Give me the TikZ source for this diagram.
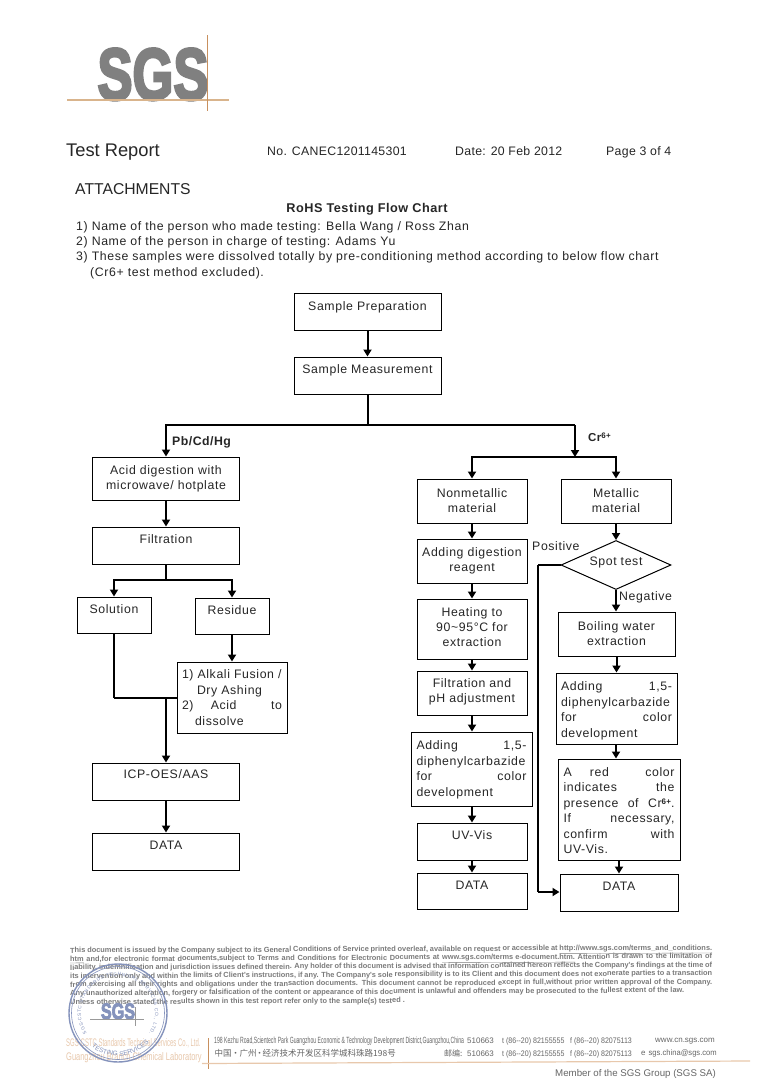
\documentclass[tikz,border=0pt]{standalone}
\usepackage{fontspec}
\setmainfont[LetterSpace=5]{Liberation Sans}
\newfontfamily\plainf{Liberation Sans}
\newfontfamily\hdrf[LetterSpace=2.5]{Liberation Sans}
\newfontfamily\logof[FakeBold=4]{Liberation Sans Bold}
\newfontfamily\boldf[LetterSpace=4]{Liberation Sans Bold}
\newfontfamily\cjkf{Noto Sans CJK SC}
\usetikzlibrary{arrows.meta,shapes.geometric,decorations.text}
\renewcommand{\arraystretch}{1.025}
\definecolor{tanl}{HTML}{D9B48C}
\definecolor{tand}{HTML}{C8905E}
\definecolor{stamp}{HTML}{8593BC}
\definecolor{lega}{HTML}{7A7A7A}
\definecolor{orng}{HTML}{E8C8AC}
\tikzset{
 fb/.style={draw=black,line width=1pt,rectangle,inner sep=0pt,font=\fontsize{12.3}{15}\selectfont,align=center,text=black!85},
 lbl/.style={inner sep=0pt,font=\fontsize{12.3}{15}\selectfont,text=black!85,anchor=base west},
 hdr/.style={inner sep=0pt,font=\hdrf\fontsize{12.3}{15}\selectfont,text=black!85,anchor=base west},
 decis/.style={draw=black,line width=1pt,diamond,inner sep=0pt,aspect=2.2},
 flow/.style={draw=black,line width=2pt,-{Triangle[width=8pt,length=7pt]}},
 flowp/.style={draw=black,line width=2pt},
 thin line/.style={draw=black,line width=1.1pt},
 legal/.style={inner sep=0pt,anchor=base west,rotate=0.27,text=lega,font=\plainf\bfseries\fontsize{7.4}{9}\selectfont},
 addr/.style={inner sep=0pt,anchor=base west,text=black!60,font=\plainf\fontsize{8}{9}\selectfont},
 labt/.style={inner sep=0pt,anchor=base west,text=orng,font=\plainf\fontsize{11}{12}\selectfont},
}
\newcommand{\bx}[7][]{\node[fb,minimum width=#4-#2,minimum height=#5-#3,text depth=#1] (#6) at ({(#2+#4)/2},{(#3+#5)/2}) {#7};}
\newcommand{\jl}[3]{\hbox to #1pt{#2\hfill #3}}
\newcommand{\crsix}{Cr\raisebox{3pt}{\boldf\fontsize{8}{8}\selectfont 6+}}
\begin{document}
\begin{tikzpicture}[x=1pt,y=-1pt]
\useasboundingbox (0,0) rectangle (764,1080);
\fill[white] (0,0) rectangle (764,1080);
% logo
\node[inner sep=0pt,anchor=base,text=black!50] (logo) at (153,99.5) {\scalebox{0.72}[1]{\logof\fontsize{73}{73}\selectfont SGS}};
\draw[tanl,line width=1.2pt] (67,100) -- (229,100);
\draw[tand,line width=0.8pt] (207.5,35) -- (207.5,111);
% header
\node[lbl,font=\plainf\fontsize{18.3}{20}\selectfont] (tr) at (66,156) {Test Report};
\node[hdr] (no) at (267,155) {No. CANEC1201145301};
\node[hdr] (dt) at (455,155) {Date: 20 Feb 2012};
\node[hdr] (pg) at (606,155) {Page 3 of 4};
\node[lbl,font=\plainf\fontsize{15.7}{18}\selectfont] (att) at (75,194) {ATTACHMENTS};
\node[lbl,font=\boldf\fontsize{12.7}{15}\selectfont,anchor=base] (ttl) at (367,212) {RoHS Testing Flow Chart};
\node[lbl] (l1) at (76,230) {1) Name of the person who made testing: Bella Wang / Ross Zhan};
\node[lbl] (l2) at (76,245) {2) Name of the person in charge of testing: Adams Yu};
\node[lbl] (l3) at (76,260) {3) These samples were dissolved totally by pre-conditioning method according to below flow chart};
\node[lbl] (l4) at (90,276) {(Cr6+ test method excluded).};
% boxes
\bx[10pt]{294}{293}{441}{330}{sp}{Sample Preparation}
\bx[12pt]{294}{357}{441}{394}{sm}{Sample Measurement}
\bx{92.5}{457}{239.5}{500}{acid}{Acid digestion with\\microwave/ hotplate}
\bx[12pt]{92.5}{527}{239.5}{564}{filt}{Filtration}
\bx[12pt]{77}{597}{151}{633}{sol}{Solution}
\bx[11pt]{195}{598}{269}{634}{res}{Residue}
\bx{177}{662}{287}{733}{alk}{\begin{tabular}{@{}l@{}}\rule{0pt}{13.5pt}\jl{100}{1) Alkali Fusion /}{}\\ \jl{100}{\hspace{15pt}Dry Ashing}{}\\ \jl{100}{2)\hfill Acid\hfill}{to}\\ \jl{100}{\hspace{13pt}dissolve}{}\end{tabular}}
\bx[15pt]{92.5}{763}{239.5}{800}{icp}{ICP-OES/AAS}
\bx[12pt]{92.5}{833}{239.5}{870}{data1}{DATA}
\bx{417}{479}{527}{523}{nonm}{Nonmetallic\\material}
\bx{561}{479}{671}{523}{met}{Metallic\\material}
\bx{417}{539}{527}{583}{adig}{Adding digestion\\reagent}
\bx[4pt]{417}{599}{527}{659}{heat}{Heating to\\90\textasciitilde95\textdegree C for\\extraction}
\bx[4pt]{417}{671}{527}{715}{fph}{Filtration and\\pH adjustment}
\bx{411}{732}{532}{806}{dpc1}{\begin{tabular}{@{}l@{}}\rule{0pt}{12.5pt}\jl{110}{Adding}{1,5-}\\diphenylcarbazide\\ \jl{110}{for}{color}\\development\end{tabular}}
\bx[12pt]{417}{823}{527}{860}{uv}{UV-Vis}
\bx[12pt]{417}{873}{527}{909}{data2}{DATA}
\node[decis,minimum width=110pt,minimum height=49pt,font=\fontsize{12.3}{15}\selectfont,text=black!85,text depth=8pt] (spot) at (616,565) {Spot test};
\bx{558}{612}{675}{656}{boil}{Boiling water\\extraction}
\bx{556}{673}{677}{744}{dpc2}{\begin{tabular}{@{}l@{}}\rule{0pt}{15.5pt}\jl{111}{Adding}{1,5-}\\diphenylcarbazide\\ \jl{111}{for}{color}\\development\end{tabular}}
\bx{558}{759}{680}{860}{red}{\begin{tabular}{@{}l@{}}\rule{0pt}{15.5pt}\jl{111}{A\hfill red\hfill}{color}\\ \jl{111}{indicates}{the}\\ \jl{111}{presence\hfill of}{\crsix.}\\ \jl{111}{If}{necessary,}\\ \jl{111}{confirm}{with}\\ UV-Vis.\end{tabular}}
\bx[12pt]{560}{874}{678}{911}{data3}{DATA}
% junction coordinates
\coordinate (j1) at (sm.south |- 0,425);
\coordinate (j1l) at (acid.north |- j1);
\coordinate (j1r) at (575,425);
\coordinate (j2) at (575,457);
\coordinate (j2l) at (nonm.north |- j2);
\coordinate (j2r) at (met.north |- j2);
\coordinate (j3) at (filt.south |- 0,580);
\coordinate (j3l) at (sol.north |- j3);
\coordinate (j3r) at (res.north |- j3);
\coordinate (j4) at (sol.south |- 0,698);
\coordinate (j5) at (icp.north |- j4);
\coordinate (j6) at (538,565);
\coordinate (j7) at (538,892);
% connectors
\draw[flow] (sp.south) -- (sm.north);
\draw[flowp] (sm.south) -- (j1);
\draw[flow] (j1) -- (j1l) -- (acid.north);
\draw[flowp] (j1) -- (j1r);
\draw[flow] (j1r) -- (j2);
\draw[flow] (j2) -- (j2l) -- (nonm.north);
\draw[flow] (j2) -- (j2r) -- (met.north);
\draw[flow] (acid.south) -- (filt.north);
\draw[flowp] (filt.south) -- (j3);
\draw[flow] (j3) -- (j3l) -- (sol.north);
\draw[flow] (j3) -- (j3r) -- (res.north);
\draw[flow] (res.south) -- (alk.north -| res.south);
\draw[flowp] (sol.south) -- (j4);
\draw[thin line] (j4) -- (j5);
\draw[thin line] (j5) -- (alk.west |- j5);
\draw[flow] (j5) -- (icp.north);
\draw[flow] (icp.south) -- (data1.north);
\draw[flow] (nonm.south) -- (adig.north);
\draw[flow] (adig.south) -- (heat.north);
\draw[flow] (heat.south) -- (fph.north);
\draw[flow] (fph.south) -- (dpc1.north -| fph.south);
\draw[flow] (dpc1.south -| uv.north) -- (uv.north);
\draw[flow] (uv.south) -- (data2.north);
\draw[flow] (met.south) -- (spot.north);
\draw[flow] (spot.south) -- (boil.north -| spot.south);
\draw[flow] (boil.south -| dpc2.north) -- (dpc2.north);
\draw[flow] (dpc2.south -| spot.south) -- (red.north -| spot.south);
\draw[flow] (red.south -| data3.north) -- (data3.north);
\draw[thin line] (spot.west) -- (j6);
\draw[flowp,line width=1.6pt] (j6) -- (j7);
\draw[flow] (j7) -- (data3.west |- j7);
% flow labels
\node[lbl,font=\boldf\fontsize{12.3}{15}\selectfont] (pb) at (172,445) {Pb/Cd/Hg};
\node[lbl,font=\boldf\fontsize{11.5}{15}\selectfont] (cr) at (588,441) {\crsix};
\node[lbl] (pos) at (532,550) {Positive};
\node[lbl] (neg) at (619,600) {Negative};
% legal text
\node[legal] (f1) at (70,953) {\hbox to 642pt{This document is issued by the Company subject to its General Conditions of Service printed overleaf, available on request or accessible at \underline{http://www.sgs.com/terms\_and\_conditions.}}};
\node[legal] (f2) at (70,961.5) {\hbox to 642pt{\underline{htm} and,for electronic format documents,subject to Terms and Conditions for Electronic Documents at \underline{www.sgs.com/terms e-document.htm.} Attention is drawn to the limitation of}};
\node[legal] (f3) at (70,970) {\hbox to 642pt{liability, indemnification and jurisdiction issues defined therein. Any holder of this document is advised that information contained hereon reflects the Company's findings at the time of}};
\node[legal] (f4) at (70,978.5) {\hbox to 642pt{its intervention only and within the limits of Client's instructions, if any. The Company's sole responsibility is to its Client and this document does not exonerate parties to a transaction}};
\node[legal] (f5) at (70,987) {\hbox to 642pt{from exercising all their rights and obligations under the transaction documents. This document cannot be reproduced except in full,without prior written approval of the Company.}};
\node[legal] (f6) at (70,995.5) {Any unauthorized alteration, forgery or falsification of the content or appearance of this document is unlawful and offenders may be prosecuted to the fullest extent of the law.};
\node[legal] (f7) at (70,1004.5) {Unless otherwise stated the results shown in this test report refer only to the sample(s) tested .};
% lab names
\node[labt] (lab1) at (66,1046) {\scalebox{0.54}[1]{SGS-CSTC Standards Technical Services Co., Ltd.}};
\node[labt] (lab2) at (66,1060) {\scalebox{0.68}[1]{Guangzhou Branch Chemical Laboratory}};
% stamp
\draw[stamp,line width=1.4pt] (118,1013) circle (49);
\draw[stamp,line width=0.6pt] (118,1013) circle (46.5);
\node[inner sep=0pt,text=stamp,anchor=base] (sgss) at (118,1019) {\scalebox{0.72}[1]{\logof\fontsize{22.5}{22.5}\selectfont SGS}};
\draw[black!40,line width=0.5pt] (90,1019) -- (144,1019);
\draw[black!40,line width=0.5pt] (135,1007) -- (135,1026);
\begin{scope}[y=1pt]
\path[postaction={decorate,decoration={text along path,text align={fit to path},text={|\plainf\fontsize{4.8}{6}\selectfont\color{stamp}|SGS-CSTC STANDARDS TECHNICAL SERVICES CO., LTD.}}}] (118,-1013) ++(213:37) arc[start angle=213,end angle=-33,radius=37];
\path[postaction={decorate,decoration={text along path,text align={fit to path},text={|\plainf\fontsize{6.5}{7}\selectfont\color{stamp}|TESTING SERVICES}}}] (118,-1013) ++(232:43) arc[start angle=232,end angle=316,radius=43];
\end{scope}
% address
\draw[tand,line width=0.8pt] (208.5,1038) -- (208.5,1069);
\draw[orng,line width=1.2pt] (202,1063.5) -- (750,1061);
\node[addr] (a1) at (214,1043) {\scalebox{0.57}[1]{\fontsize{9}{9}\selectfont 198 Kezhu Road,Scientech Park Guangzhou Economic \& Technology Development District,Guangzhou,China}};
\node[addr] (a2) at (467,1043) {510663};
\node[addr] (a3) at (502,1043) {\scalebox{0.88}[1]{t (86--20) 82155555}};
\node[addr] (a4) at (570,1043) {\scalebox{0.88}[1]{f (86--20) 82075113}};
\node[addr] (a5) at (655,1042) {www.cn.sgs.com};
\node[addr,font=\cjkf\fontsize{8.5}{10}\selectfont] (b1) at (214.5,1056.5) {中国\hbox to 8pt{\hss·\hss}广州\hbox to 6pt{\hss·\hss}经济技术开发区科学城科珠路198号};
\node[addr,font=\cjkf\fontsize{8}{9}\selectfont] (b2) at (444,1056) {邮编:};
\node[addr] (b2n) at (467,1056) {510663};
\node[addr] (b3) at (502,1056) {\scalebox{0.88}[1]{t (86--20) 82155555}};
\node[addr] (b4) at (570,1056) {\scalebox{0.88}[1]{f (86--20) 82075113}};
\node[addr] (b5) at (641,1055) {e\hspace{3pt}\scalebox{0.95}[1]{sgs.china@sgs.com}};
\node[inner sep=0pt,anchor=base west,text=black!60,font=\plainf\fontsize{9.7}{12}\selectfont] (mem) at (555,1076) {Member of the SGS Group (SGS SA)};
\end{tikzpicture}
\end{document}
